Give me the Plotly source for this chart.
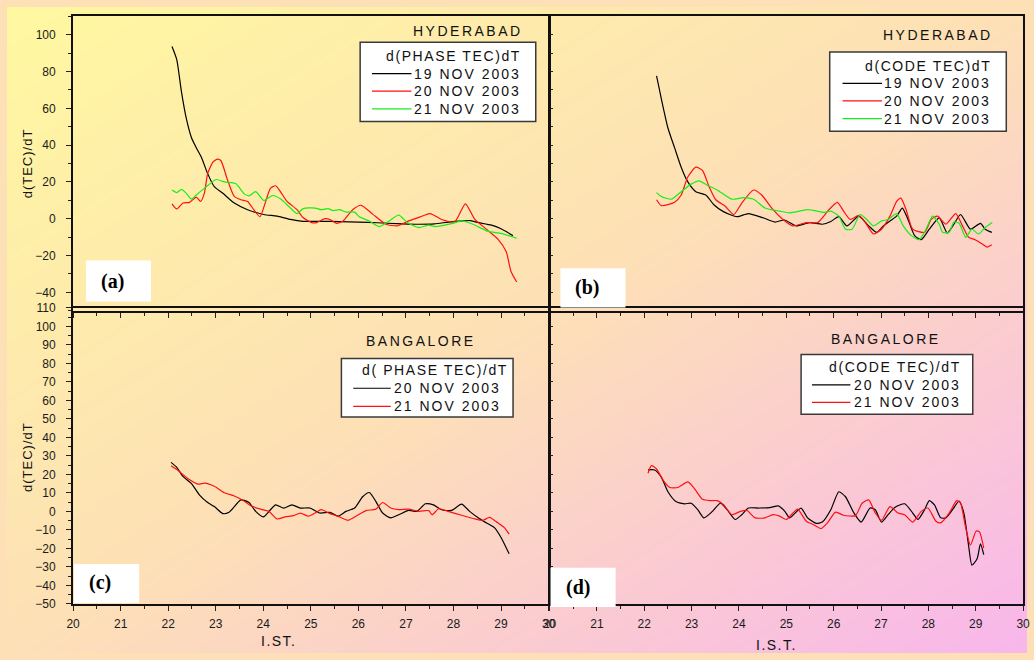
import plotly.graph_objects as go

W, H = 1034, 660

# ---------------- data: rate of change of TEC versus I.S.T. (hours) ----------------
# Hyderabad, phase TEC
hyd_phase_19_t = [22.08, 22.18, 22.28, 22.38, 22.49, 22.59, 22.70, 22.83, 22.97, 23.15, 23.39, 23.67,
                  24.01, 24.29, 24.57, 24.84, 25.2, 25.6, 26.0, 26.4, 26.8, 27.2, 27.6, 27.9, 28.2,
                  28.35, 28.5, 28.8, 29.0, 29.25]
hyd_phase_19_v = [93.6, 86.5, 68.8, 54.6, 44.0, 38.6, 33.3, 24.5, 17.4, 13.8, 8.5, 4.9,
                  2.3, 1.4, -0.4, -1.4, -1.4, -1.6, -1.8, -2.2, -2.7, -3.0, -2.8, -1.8, -1.2,
                  -1.0, -2.0, -3.5, -5.5, -9.2]

hyd_phase_20_t = [22.08, 22.18, 22.31, 22.45, 22.59, 22.68, 22.76, 22.83, 22.94, 23.04, 23.11, 23.25,
                  23.39, 23.53, 23.67, 23.80, 23.93, 24.05, 24.15, 24.26, 24.36, 24.50, 24.71, 24.84,
                  25.02, 25.12, 25.30, 25.40, 25.54, 25.68, 25.88, 26.06, 26.30, 26.58, 26.82, 27.06,
                  27.30, 27.51, 27.75, 28.03, 28.25, 28.45, 28.73, 28.93, 29.11, 29.21, 29.33]
hyd_phase_20_v = [8.1, 5.3, 8.5, 8.9, 11.7, 9.4, 13.8, 24.5, 30.7, 32.4, 31.5, 20.9,
                  12.1, 10.3, 9.4, 4.9, 1.1, 9.4, 16.5, 17.9, 14.7, 9.4, 4.9, 0.5,
                  -2.1, -2.1, 0.0, -0.4, -2.5, -1.2, 4.9, 7.3, 2.5, -3.0, -3.9, -1.2,
                  1.0, 2.8, -0.4, -1.6, 8.1, -0.4, -6.5, -11.0, -18.0, -28.7, -34.4]

hyd_phase_21_t = [22.08, 22.18, 22.28, 22.38, 22.49, 22.59, 22.76, 23.01, 23.18, 23.42, 23.60, 23.70,
                  23.84, 24.01, 24.19, 24.36, 24.57, 24.71, 24.84, 25.09, 25.22, 25.36, 25.47, 25.61,
                  25.74, 25.92, 26.02, 26.23, 26.44, 26.65, 26.85, 27.03, 27.27, 27.48, 27.62, 27.96,
                  28.17, 28.41, 28.73, 29.00, 29.33]
hyd_phase_21_v = [15.6, 14.2, 15.9, 13.8, 10.6, 12.9, 16.5, 21.3, 20.0, 19.1, 13.5, 12.4,
                  14.7, 9.9, 12.6, 10.8, 5.8, 2.8, 5.5, 5.8, 4.9, 5.5, 4.4, 4.9,
                  3.6, 3.6, 1.0, -1.2, -4.3, -1.2, 2.0, -2.1, -4.8, -3.5, -4.3, -2.7,
                  -1.2, -3.0, -6.9, -8.0, -10.6]

# Hyderabad, code TEC
hyd_code_19_t = [22.26, 22.36, 22.50, 22.64, 22.78, 22.92, 23.09, 23.30, 23.47, 23.68, 23.96, 24.20,
                 24.51, 24.76, 24.96, 25.21, 25.49, 25.76, 25.94, 26.11, 26.28, 26.53, 26.74, 26.91,
                 27.05, 27.19, 27.33, 27.45, 27.57, 27.71, 27.85, 28.02, 28.23, 28.40, 28.54, 28.68,
                 28.89, 29.10, 29.20, 29.34]
hyd_code_19_v = [77.6, 65.2, 49.3, 38.6, 28.0, 20.0, 14.7, 12.9, 7.6, 3.7, 1.1, 2.8,
                 0.5, -1.8, -0.7, -3.9, -2.1, -3.0, -1.5, 1.1, -3.9, 1.4, -3.9, -7.4,
                 -3.9, -1.2, 1.4, 5.8, -0.4, -9.2, -11.4, -5.7, 0.5, -7.8, -3.0, 2.3,
                 -5.7, -2.5, -5.7, -7.4]

hyd_code_20_t = [22.26, 22.36, 22.64, 22.78, 22.92, 23.09, 23.23, 23.37, 23.51, 23.71, 23.89, 24.06,
                 24.31, 24.48, 24.72, 24.93, 25.14, 25.42, 25.66, 25.90, 26.08, 26.21, 26.35, 26.53,
                 26.67, 26.84, 27.01, 27.19, 27.33, 27.42, 27.53, 27.67, 27.92, 28.06, 28.19, 28.37,
                 28.58, 28.72, 28.85, 28.99, 29.13, 29.24, 29.34]
hyd_code_20_v = [10.3, 7.1, 8.9, 12.9, 22.7, 28.0, 26.2, 17.4, 10.3, 6.8, 2.3, 8.5,
                 15.6, 12.9, 4.9, -0.4, -3.9, -2.1, -2.1, 4.9, 8.9, 4.1, -0.4, 1.8,
                 -2.1, -8.3, -5.7, 1.4, 9.4, 11.2, 4.9, -5.7, -7.4, -0.4, 1.4, -3.0,
                 2.8, -3.9, -10.1, -11.4, -13.6, -15.4, -14.2]

hyd_code_21_t = [22.26, 22.36, 22.57, 22.78, 22.99, 23.16, 23.33, 23.54, 23.85, 24.10, 24.31, 24.55,
                 24.86, 25.07, 25.45, 25.80, 25.94, 26.11, 26.25, 26.39, 26.56, 26.70, 26.84, 27.01,
                 27.15, 27.33, 27.47, 27.64, 27.81, 27.95, 28.09, 28.23, 28.30, 28.44, 28.54, 28.65,
                 28.79, 28.92, 29.06, 29.20, 29.35]
hyd_code_21_v = [14.2, 12.1, 10.6, 14.7, 18.8, 20.6, 18.2, 15.6, 10.6, 11.5, 10.6, 5.8,
                 4.1, 3.2, 4.9, 3.4, 4.1, 1.4, -5.7, -5.7, 2.3, -0.4, -3.9, -1.2,
                 -0.4, 2.8, -3.9, -9.2, -11.4, -5.7, 1.4, -3.0, -7.4, -7.4, -1.8, -2.5,
                 -10.1, -5.7, -8.3, -4.8, -2.1]

# Bangalore, phase TEC
blr_phase_20_t = [22.06, 22.18, 22.31, 22.49, 22.66, 22.83, 22.97, 23.15, 23.28, 23.53, 23.70, 23.84,
                  24.00, 24.15, 24.26, 24.43, 24.60, 24.78, 24.98, 25.19, 25.40, 25.57, 25.74, 25.92,
                  26.09, 26.23, 26.37, 26.51, 26.68, 26.85, 27.06, 27.23, 27.41, 27.58, 27.75, 27.96,
                  28.17, 28.34, 28.52, 28.69, 28.86, 29.00, 29.17]
blr_phase_20_v = [26.5, 23.8, 18.9, 15.0, 8.8, 4.8, 2.6, -1.2, -0.5, 6.2, 4.8, 0.0,
                  -3.0, 0.9, 3.5, 1.8, 3.5, 1.8, 1.8, -0.9, -0.5, -2.6, 0.0, 1.8,
                  7.9, 10.2, 5.3, -0.9, -3.5, -1.8, 0.5, 0.0, 4.1, 3.5, 0.9, 0.5,
                  3.9, 0.0, -3.5, -6.2, -8.8, -14.1, -22.9]

blr_phase_21_t = [22.06, 22.21, 22.42, 22.63, 22.77, 22.97, 23.18, 23.39, 23.56, 23.74, 23.94, 24.12,
                  24.29, 24.46, 24.64, 24.78, 24.95, 25.09, 25.22, 25.40, 25.57, 25.78, 25.95, 26.16,
                  26.37, 26.51, 26.68, 26.85, 27.06, 27.27, 27.48, 27.55, 27.69, 27.89, 28.17, 28.45,
                  28.62, 28.76, 28.93, 29.07, 29.17]
blr_phase_21_v = [24.7, 22.1, 17.6, 14.7, 15.3, 13.6, 10.1, 8.3, 6.2, 3.0, 1.2, 0.0,
                  -4.1, -3.0, -2.3, -0.9, -2.6, -0.9, 0.9, -1.2, -2.6, -4.8, -2.6, 0.4,
                  1.2, 4.8, 1.8, 0.9, 1.2, 0.0, 0.4, -1.8, 1.4, 0.0, -2.1, -4.1,
                  -4.8, -3.2, -6.2, -8.8, -12.3]

# Bangalore, code TEC
blr_code_20_t = [22.08, 22.22, 22.36, 22.50, 22.67, 22.85, 22.99, 23.13, 23.26, 23.44, 23.61, 23.75,
                 23.92, 24.06, 24.20, 24.41, 24.65, 24.83, 24.97, 25.07, 25.31, 25.45, 25.63, 25.76,
                 25.94, 26.11, 26.25, 26.42, 26.58, 26.77, 26.88, 27.01, 27.15, 27.29, 27.50, 27.67,
                 27.78, 27.92, 28.02, 28.13, 28.26, 28.37, 28.51, 28.65, 28.75, 28.85, 28.92, 29.03,
                 29.10, 29.17]
blr_code_20_v = [22.4, 22.4, 18.5, 10.6, 5.3, 4.1, 4.4, 0.9, -3.5, 0.0, 4.4, 0.9,
                 -4.4, -1.8, 1.8, 1.8, 2.0, 3.0, 0.0, -3.5, 1.8, -3.5, -6.5, -5.8,
                 0.9, 10.6, 7.9, -0.5, -5.8, 1.8, 0.9, -5.8, -1.8, 2.1, 4.1, -0.9,
                 -4.4, 0.9, 5.8, 3.5, -3.5, -3.5, 0.9, 5.6, -0.9, -18.5, -29.1, -25.6,
                 -17.6, -23.4]

blr_code_21_t = [22.08, 22.15, 22.26, 22.40, 22.54, 22.71, 22.92, 23.06, 23.23, 23.40, 23.54, 23.68,
                 23.85, 24.03, 24.17, 24.34, 24.55, 24.72, 24.86, 25.00, 25.14, 25.24, 25.42, 25.56,
                 25.73, 25.87, 26.04, 26.21, 26.46, 26.60, 26.74, 26.88, 27.01, 27.19, 27.36, 27.50,
                 27.67, 27.85, 27.99, 28.16, 28.26, 28.44, 28.60, 28.68, 28.78, 28.89, 29.01, 29.08,
                 29.17]
blr_code_21_v = [20.6, 24.7, 22.9, 16.8, 12.9, 12.9, 15.9, 12.3, 6.5, 5.8, 5.8, 3.5,
                 -1.8, 0.0, 0.5, -3.5, -3.5, -1.8, -2.6, -4.4, -0.9, 1.2, -5.3, -7.0,
                 -9.3, -6.2, -0.4, -2.1, -2.3, 4.4, 6.2, -0.9, -4.8, 2.6, -0.9, -1.8,
                 -5.8, 0.0, 1.8, -5.3, -6.2, -0.9, 5.8, 4.4, -7.9, -18.2, -10.6, -11.1,
                 -19.9]

x_tick_labels = ["20", "21", "22", "23", "24", "25", "26", "27", "28", "29", "30"]

# ---------------- layout helpers (pixel -> paper fractions) ----------------
def px(x):
    return x / W


def py(y):
    return 1 - y / H


def spaced(text, gap):
    return f'<span style="letter-spacing:{gap}px">{text}</span>'


SANS = "Liberation Sans, Arial, sans-serif"
SERIF = "Liberation Serif, Times New Roman, serif"
BLACK = "#000000"
RED = "#ff0f0f"
GREEN = "#16ee16"

fig = go.Figure()

# page background: a bilinear yellow -> peach -> pink diagonal wash on a hidden full-page subplot,
# added first so every panel is drawn above it
fig.add_trace(go.Heatmap(
    x=[0, 1], y=[0, 1], z=[[0.5, 1.0], [0.0, 0.5]], zmin=0, zmax=1, zsmooth="best",
    colorscale=[[0, "#fff8a0"], [0.5, "#fde0b6"], [1, "#f8b6ec"]],
    showscale=False, hoverinfo="skip", xaxis="x", yaxis="y",
))

panels = {
    "a": dict(xa="x2", ya="y2", series=[
        (hyd_phase_19_t, hyd_phase_19_v, "19 NOV 2003", BLACK),
        (hyd_phase_20_t, hyd_phase_20_v, "20 NOV 2003", RED),
        (hyd_phase_21_t, hyd_phase_21_v, "21 NOV 2003", GREEN)]),
    "b": dict(xa="x3", ya="y3", series=[
        (hyd_code_19_t, hyd_code_19_v, "19 NOV 2003", BLACK),
        (hyd_code_20_t, hyd_code_20_v, "20 NOV 2003", RED),
        (hyd_code_21_t, hyd_code_21_v, "21 NOV 2003", GREEN)]),
    "c": dict(xa="x4", ya="y4", series=[
        (blr_phase_20_t, blr_phase_20_v, "20 NOV 2003", BLACK),
        (blr_phase_21_t, blr_phase_21_v, "21 NOV 2003", RED)]),
    "d": dict(xa="x5", ya="y5", series=[
        (blr_code_20_t, blr_code_20_v, "20 NOV 2003", BLACK),
        (blr_code_21_t, blr_code_21_v, "21 NOV 2003", RED)]),
}

for key, p in panels.items():
    for t, v, name, color in p["series"]:
        fig.add_trace(go.Scatter(
            x=t, y=v, mode="lines", name=name, showlegend=False,
            line=dict(color=color, width=1.2, shape="spline", smoothing=0.6),
            xaxis=p["xa"], yaxis=p["ya"],
        ))

# ---------------- axes ----------------
LEFT_X = [px(67), px(549)]
RIGHT_X = [px(550), px(1030)]
TOP_Y = [py(310.3), py(9.5)]
BOTTOM_Y = [py(609.8), py(307.4)]
tick_font = dict(family=SANS, size=12, color="#1a1a1a")

frame = dict(showline=True, linecolor="#111", linewidth=2, mirror=True,
             showgrid=False, zeroline=False, tickcolor="#222", tickfont=tick_font)

tick_vals = [int(s) for s in x_tick_labels]


def x_axis(domain, anchor, labels):
    return dict(frame, domain=domain, anchor=anchor, range=[20, 30],
                tickvals=tick_vals, ticktext=x_tick_labels,
                showticklabels=labels, ticks="outside", ticklen=5, tickwidth=1,
                ticklabelstandoff=3,
                minor=dict(dtick=0.5, tick0=20, ticks="outside", ticklen=3, tickcolor="#222"))


hidden = dict(domain=[0, 1], range=[0, 1], visible=False, fixedrange=True)

fig.update_layout(
    xaxis=dict(hidden, anchor="y"),
    yaxis=dict(hidden, anchor="x"),
    xaxis2=x_axis(LEFT_X, "y2", False),
    xaxis3=x_axis(RIGHT_X, "y3", False),
    xaxis4=x_axis(LEFT_X, "y4", True),
    xaxis5=x_axis(RIGHT_X, "y5", True),
    yaxis2=dict(frame, domain=TOP_Y, anchor="x2", range=[-50, 110], tick0=0, dtick=20,
                ticks="outside", ticklen=5, tickwidth=1, ticklabelstandoff=8,
                minor=dict(dtick=10, tick0=0, ticks="outside", ticklen=3, tickcolor="#222")),
    yaxis3=dict(frame, domain=TOP_Y, anchor="x3", range=[-50, 110], tick0=0, dtick=10,
                showticklabels=False, ticks="inside", ticklen=3, tickwidth=1),
    yaxis4=dict(frame, domain=BOTTOM_Y, anchor="x4", range=[-50, 110], tick0=0, dtick=10,
                ticks="outside", ticklen=5, tickwidth=1, ticklabelstandoff=8,
                minor=dict(dtick=5, tick0=0, ticks="outside", ticklen=3, tickcolor="#222")),
    yaxis5=dict(frame, domain=BOTTOM_Y, anchor="x5", range=[-50, 110], tick0=0, dtick=10,
                showticklabels=False, ticks="inside", ticklen=3, tickwidth=1),
)

notes = []
shapes = []


def note(text, x, y, size=14, font=SANS, angle=0, gap=2.5, anchor="center"):
    notes.append(dict(text=spaced(text, gap) if gap else text, x=px(x), y=py(y),
                      xref="paper", yref="paper", showarrow=False, textangle=angle,
                      xanchor=anchor, yanchor="middle",
                      font=dict(family=font, size=size, color="#111")))


# ---------------- legend boxes (one per panel) ----------------
# box: left, top, right, bottom; title row y; sample line x0..x1; text right edge; row pitch
legend_boxes = {
    "a": dict(box=(358, 36, 536, 117), title="d(PHASE TEC)dT", ty=50, lx=(370, 410), tr=523, row=18),
    "b": dict(box=(834, 46, 1013, 127), title="d(CODE TEC)dT", ty=60, lx=(847, 887), tr=1000, row=18),
    "c": dict(box=(339, 359, 513, 419), title="d( PHASE TEC)/dT", ty=371, lx=(351, 389), tr=503, row=18.5),
    "d": dict(box=(805, 355, 979, 416), title="d(CODE TEC)/dT", ty=368, lx=(816, 855), tr=969, row=18),
}
for key, lg in legend_boxes.items():
    x0, y0, x1, y1 = lg["box"]
    shapes.append(dict(type="rect", xref="paper", yref="paper",
                       x0=px(x0), x1=px(x1), y0=py(y1), y1=py(y0),
                       fillcolor="white", line=dict(color="#3a3a3a", width=1.5), layer="above"))
    title_right = lg["tr"] + (7 if key == "c" else 0)
    note(lg["title"], title_right, lg["ty"], size=14, gap=1.6, anchor="right")
    for i, (_, _, name, color) in enumerate(panels[key]["series"]):
        ry = lg["ty"] + lg["row"] * (i + 1)
        shapes.append(dict(type="line", xref="paper", yref="paper",
                           x0=px(lg["lx"][0]), x1=px(lg["lx"][1]), y0=py(ry), y1=py(ry),
                           line=dict(color=color, width=1.2), layer="above"))
        note(name, lg["tr"], ry, size=14, gap=2, anchor="right")

# ---------------- text ----------------
note("HYDERABAD", 467, 25)
note("HYDERABAD", 944, 29)
note("BANGALORE", 420, 341)
note("BANGALORE", 891, 339)
note("d(TEC)/dT", 21, 160, size=13, angle=-90, gap=1)
note("d(TEC)/dT", 21, 460, size=13, angle=-90, gap=1)
note("I.ST.", 276, 648, size=14, gap=1.5)
note("I.S.T.", 780, 652, size=14, gap=1.5)

# panel tags on white boxes
for (x0, y0, x1, y1) in [(80, 259, 146, 301), (561, 267, 627, 307),
                         (68, 569, 134, 609), (551, 573, 617, 613)]:
    shapes.append(dict(type="rect", xref="paper", yref="paper",
                       x0=px(x0), x1=px(x1), y0=py(y1), y1=py(y0),
                       fillcolor="white", line=dict(width=0), layer="above"))

for tag, x, y in [("(a)", 107, 280), ("(b)", 588, 287), ("(c)", 94, 588), ("(d)", 579, 593)]:
    notes.append(dict(text=f"<b>{tag}</b>", x=px(x), y=py(y), xref="paper", yref="paper",
                      showarrow=False, xanchor="center", yanchor="middle",
                      font=dict(family=SERIF, size=20, color="#000")))

fig.update_layout(
    width=W, height=H,
    margin=dict(l=0, r=0, t=0, b=0),
    paper_bgcolor="#fde0b6",
    plot_bgcolor="rgba(0,0,0,0)",
    showlegend=False,
    annotations=notes,
    shapes=shapes,
)

# pin the figure to the page's top-left corner
page_css = (
    "document.documentElement.style.margin='0';"
    "document.body.style.margin='0';"
    "document.body.style.overflow='hidden';"
)

fig.write_html("out.html", post_script=page_css)
